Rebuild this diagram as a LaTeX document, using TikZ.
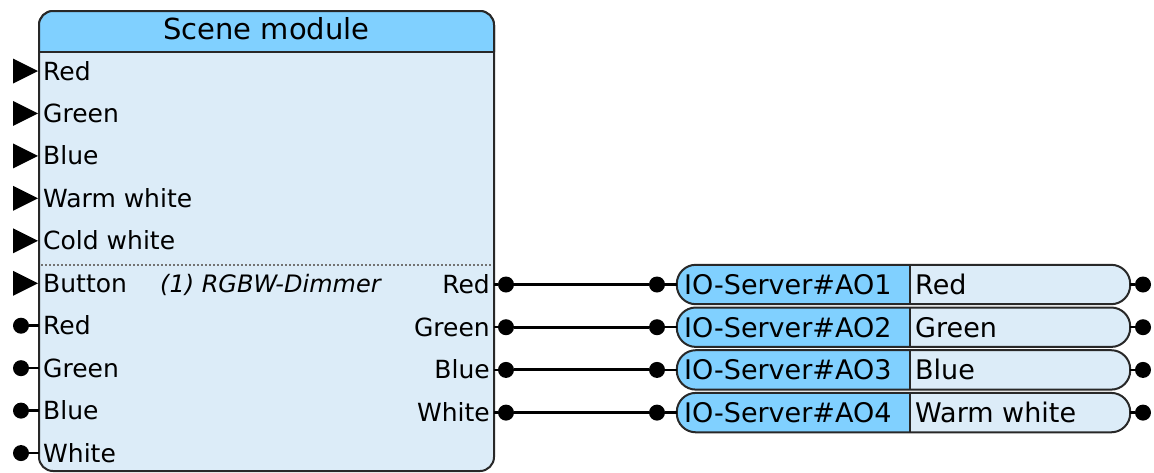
\documentclass[tikz,border=0pt]{standalone}
\usepackage{fontspec}
\setmainfont{DejaVu Sans}
\definecolor{head}{RGB}{128,208,255}
\definecolor{body}{RGB}{220,236,248}
\definecolor{edge}{RGB}{40,40,40}
\begin{document}
\begin{tikzpicture}[x=1pt,y=-1pt,
  lbl/.style={anchor=base west, inner sep=0pt, font=\fontsize{25}{30}\selectfont},
  rlbl/.style={anchor=base east, inner sep=0pt, font=\fontsize{25}{30}\selectfont},
  iotext/.style={anchor=base west, inner sep=0pt, font=\fontsize{27}{32}\selectfont},
  pindot/.style={circle, fill=black, inner sep=0pt, minimum size=16pt},
  wire/.style={line width=3pt, black},
  stub/.style={line width=2.5pt, black},
  border/.style={draw=edge, line width=2pt}]
\useasboundingbox (0,0) rectangle (1154,472);
% module
\node[border, fill=body, rounded corners=14pt, minimum width=455pt, minimum height=460pt, inner sep=0pt] (mod) at (266.5,241) {};
\path[fill=head, rounded corners=14pt] (39,52) -- (39,11) -- (494,11) -- (494,52);
\draw[border, rounded corners=14pt] (39,52) -- (39,11) -- (494,11) -- (494,52);
\draw[border] (39,52) -- (494,52);
\node[anchor=base, inner sep=0pt, font=\fontsize{29}{34}\selectfont] (title) at (266.5,39.5) {Scene module};
\draw[black!55, line width=1.2pt, dash pattern=on 1.5pt off 2.5pt] (41,265) -- (492,265);
% left inputs (triangles)
\foreach \i/\t in {0/Red,1/Green,2/Blue,3/Warm white,4/Cold white,5/Button}{
  \pgfmathsetmacro\yy{71+42.45*\i}
  \fill (13,\yy-12.5) -- (38,\yy) -- (13,\yy+12.5) -- cycle;
  \node[lbl] (inl\i) at (43,\yy+9) {\t};
}
\node[anchor=base west, inner sep=0pt, font=\fontsize{24}{29}\selectfont\itshape] (dev) at (160,292.25) {(1) RGBW-Dimmer};
% left inputs (dots)
\foreach \i/\t in {6/Red,7/Green,8/Blue,9/White}{
  \pgfmathsetmacro\yy{71+42.45*\i}
  \node[pindot] (li\i) at (21,\yy) {};
  \draw[stub] (li\i) -- (39,\yy);
  \node[lbl] (inl\i) at (43,\yy+9) {\t};
}
% outputs and IO-Server boxes
\foreach \k/\t/\n/\u in {0/Red/1/Red,1/Green/2/Green,2/Blue/3/Blue,3/White/4/Warm white}{
  \pgfmathsetmacro\rr{284.5+42.7*\k}
  \node[rlbl] (outl\k) at (490,\rr+9) {\t};
  \node[pindot] (o\k) at (506,\rr) {};
  \draw[stub] (494,\rr) -- (o\k);
  \node[pindot] (p\k) at (657,\rr) {};
  \draw[wire] (o\k) -- (p\k);
  \node[fill=body, rounded corners=19pt, minimum width=453pt, minimum height=39pt, inner sep=0pt] (io\k) at (903.5,\rr) {};
  \fill[head, rounded corners=19pt] (910,\rr-19.5) -- (io\k.north west) -- (io\k.south west) -- (910,\rr+19.5);
  \draw[border, rounded corners=19pt] (io\k.north west) rectangle (io\k.south east);
  \draw[border] (910,\rr-19.5) -- (910,\rr+19.5);
  \draw[stub] (p\k) -- (io\k.west);
  \node[pindot] (q\k) at (1143,\rr) {};
  \draw[stub] (io\k.east) -- (q\k);
  \node[iotext] (ion\k) at (684,\rr+10) {IO-Server\#AO\n};
  \node[iotext] (iov\k) at (915,\rr+10) {\u};
}
\end{tikzpicture}
\end{document}
